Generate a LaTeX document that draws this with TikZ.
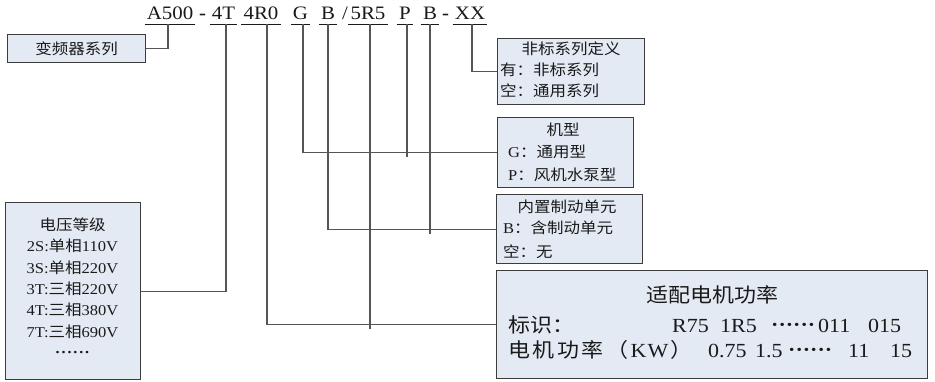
\documentclass[tikz,border=0pt]{standalone}
\usepackage{fontspec}
\setmainfont{Liberation Serif}[FakeStretch=1.1]
\newfontfamily\cjk{Noto Sans CJK SC}[FakeStretch=1.1]
\newcommand\mydotrow[1]{{\bfseries ·\kern#1·\kern#1·\kern#1·\kern#1·\kern#1·}}
\definecolor{boxfill}{HTML}{E4EAF4}
\definecolor{boxline}{HTML}{3C3C3C}
\definecolor{wirec}{HTML}{555555}
\definecolor{ink}{HTML}{1A1A1A}
\tikzset{
  panel/.style={draw=boxline, fill=boxfill, line width=1.4pt, inner sep=0pt, anchor=north west},
  wire/.style={draw=wirec, line width=1.2pt},
  code/.style={anchor=base, inner sep=0pt, text=ink, font=\fontsize{19}{19}\selectfont},
  uline/.style={draw=ink, line width=1.8pt},
  small/.style={inner sep=0pt, text=ink, font=\fontsize{15}{15}\selectfont},
  big/.style={inner sep=0pt, text=ink, font=\fontsize{20}{20}\selectfont},
}
\begin{document}
\begin{tikzpicture}[x=1pt,y=-1pt]
\useasboundingbox (0,0) rectangle (935,382);
% boxes
\node[panel, minimum width=138pt, minimum height=28pt, small] (series) at (7,34) {\cjk 变频器系列};
\node[panel, minimum width=135pt, minimum height=177pt] (volt) at (5,202) {};
\node[panel, minimum width=147pt, minimum height=66pt] (ns) at (497,38) {};
\node[panel, minimum width=136pt, minimum height=70pt] (jx) at (497,117) {};
\node[panel, minimum width=146pt, minimum height=69pt] (zd) at (496,194) {};
\node[panel, minimum width=431pt, minimum height=108pt] (pw) at (496,270) {};
% code line
\node[code] (cA) at (170,20) {A500};
\node[code] (d1) at (202.5,20) {\bfseries -};
\node[code] (cV) at (223.5,20) {4T};
\node[code] (cR) at (261,20) {4R0};
\node[code] (cG) at (300.5,20) {G};
\node[code] (cB) at (328,20) {B};
\node[code] (sl) at (345,20) {/};
\node[code] (cR2) at (368,20) {5R5};
\node[code] (cP) at (405,20) {P};
\node[code] (cB2) at (430,20) {B};
\node[code] (d2) at (445.5,20) {\bfseries -};
\node[code] (cX) at (470,20) {XX};
\foreach \n in {cA,cV,cR,cG,cB,cR2,cP,cB2,cX}
  \draw[uline] ([xshift=-2pt,yshift=-4.5pt]\n.base west) -- ([xshift=2pt,yshift=-4.5pt]\n.base east);
% connectors
\draw[wire] ([xshift=-2pt,yshift=-4.5pt]cA.base) |- (series.east);
\draw[wire] ([xshift=2.5pt,yshift=-4.5pt]cV.base) |- (volt.east);
\draw[wire] ([xshift=6pt,yshift=-4.5pt]cR.base) |- (pw.west);
\draw[wire] ([xshift=2.5pt,yshift=-4.5pt]cG.base) |- (jx.west);
\draw[wire] ([yshift=-4.5pt]cB.base) |- (zd.west);
\draw[wire] ([xshift=2pt,yshift=-4.5pt]cR2.base) -- ([xshift=2pt,yshift=-4.5pt]cR2.base |- pw.west);
\draw[wire] ([xshift=2pt,yshift=-4.5pt]cP.base) -- ([xshift=2pt,yshift=-4.5pt]cP.base |- jx.west);
\draw[wire] ([yshift=-4.5pt]cB2.base) -- ([yshift=-4.5pt]cB2.base |- zd.west);
\draw[wire] ([xshift=2pt,yshift=-4.5pt]cX.base) |- (ns.west);
% voltage box text
\node[small, anchor=base] (v0) at (72.5,230.7) {\cjk 电压等级};
\node[small, anchor=base] (v1) at (72.5,252) {2S:{\cjk 单相}110V};
\node[small, anchor=base] (v2) at (72.5,273.3) {3S:{\cjk 单相}220V};
\node[small, anchor=base] (v3) at (72.5,294.6) {3T:{\cjk 三相}220V};
\node[small, anchor=base] (v4) at (72.5,315.9) {4T:{\cjk 三相}380V};
\node[small, anchor=base] (v5) at (72.5,337.2) {7T:{\cjk 三相}690V};
\node[small, anchor=base] (v6) at (72.5,357.5) {\mydotrow{0.4pt}};
% non-standard box
\node[small, anchor=base] (n0) at (571,54.7) {\cjk 非标系列定义};
\node[small, anchor=base west] (n1) at (500,75.7) {\cjk 有：非标系列};
\node[small, anchor=base west] (n2) at (500,96.7) {\cjk 空：通用系列};
% model box
\node[small, anchor=base] (j0) at (563,135.7) {\cjk 机型};
\node[small, anchor=base west] (j1) at (508,157.7) {G{\cjk ：通用型}};
\node[small, anchor=base west] (j2) at (508,180.7) {P{\cjk ：风机水泵型}};
% brake box
\node[small, anchor=base] (z0) at (567,212.7) {\cjk 内置制动单元};
\node[small, anchor=base west] (z1) at (503,233.7) {B{\cjk ：含制动单元}};
\node[small, anchor=base west] (z2) at (503,257.7) {\cjk 空：无};
% power box
\node[big, anchor=base] (p0) at (712,302.6) {\cjk 适配电机功率};
\node[big, anchor=base west] (p1) at (508,332.6) {\cjk 标识：};
\node[big, anchor=base west] (p2) at (672,332.6) {R75};
\node[big, anchor=base west] (p3) at (720,332.6) {1R5};
\node[big, anchor=base west] (p4) at (771,331.6) {\mydotrow{0pt}};
\node[big, anchor=base west] (p5) at (818,332.6) {011};
\node[big, anchor=base west] (p6) at (868,332.6) {015};
\node[big, anchor=base west] (q1) at (508,357.6) {{\cjk 电\kern2.5pt 机\kern2.5pt 功\kern2.5pt 率\kern3pt （}\kern2pt K\kern1pt W\kern2pt{\cjk ）}};
\node[big, anchor=base west] (q2) at (708,357.6) {0.75};
\node[big, anchor=base west] (q3) at (755,357.6) {1.5};
\node[big, anchor=base west] (q4) at (788,356.6) {\mydotrow{0pt}};
\node[big, anchor=base west] (q5) at (848,357.6) {11};
\node[big, anchor=base west] (q6) at (890,357.6) {15};
\end{tikzpicture}
\end{document}
